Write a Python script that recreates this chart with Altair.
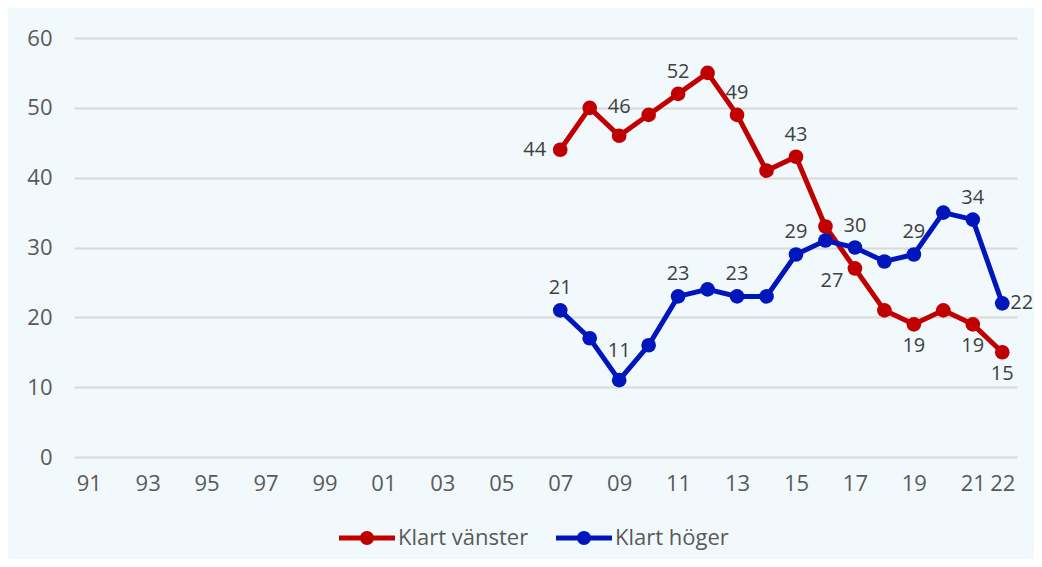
import altair as alt
import pandas as pd

# ---- data ----
years = list(range(2007, 2023))
vanster = [44, 50, 46, 49, 52, 55, 49, 41, 43, 33, 27, 21, 19, 21, 19, 15]
hoger = [21, 17, 11, 16, 23, 24, 23, 23, 29, 31, 30, 28, 29, 35, 34, 22]
series_names = ["Klart vänster", "Klart höger"]
series_colors = ["#c00000", "#0016bd"]
tick_years = list(range(1991, 2022, 2)) + [2022]
y_ticks = [0, 10, 20, 30, 40, 50, 60]

# which points carry a value label, and where it sits
vanster_labels = {2007: "left", 2009: "abovehigh", 2011: "above", 2013: "above",
                  2015: "above", 2017: "belowleft", 2019: "below", 2021: "below",
                  2022: "below"}
hoger_labels = {2007: "above", 2009: "abovehigh", 2011: "above", 2013: "above",
                2015: "above", 2017: "above", 2019: "above", 2021: "above",
                2022: "right"}

rows = []
for name, vals, labs in [(series_names[0], vanster, vanster_labels),
                         (series_names[1], hoger, hoger_labels)]:
    for yr, v in zip(years, vals):
        rows.append({"year": yr, "value": v, "series": name,
                     "pos": labs.get(yr, "none")})
df = pd.DataFrame(rows)

FONT = "Open Sans"
BG = "#f2f9fc"

color = alt.Color(
    "series:N",
    scale=alt.Scale(domain=series_names, range=series_colors),
    sort=series_names,
    legend=alt.Legend(
        title=None,
        orient="none",
        direction="horizontal",
        legendX=265,
        legendY=472,
        symbolType="M-1,-0.09 L1,-0.09 L1,0.09 L-1,0.09 Z M0.25,0 A0.25,0.25 0 1,1 -0.25,0 A0.25,0.25 0 1,1 0.25,0 Z",
        symbolSize=3136,
        symbolStrokeWidth=0,
        symbolOpacity=1,
        labelFont=FONT,
        labelFontSize=22,
        labelColor="#595959",
        labelOffset=3,
        columnPadding=27,
        labelLimit=300,
    ),
)

x = alt.X(
    "year:Q",
    scale=alt.Scale(domain=[1990.5, 2022.5], nice=False, zero=False),
    axis=alt.Axis(
        title=None, values=tick_years, grid=False, domain=False, ticks=False,
        labelExpr="slice(format(datum.value, 'd'), 2)",
        labelFont=FONT, labelFontSize=22, labelColor="#595959",
        labelPadding=16, labelOverlap=False, labelFlush=False,
    ),
)
y = alt.Y(
    "value:Q",
    scale=alt.Scale(domain=[0, 60], nice=False),
    axis=alt.Axis(
        title=None, values=y_ticks, domain=False, ticks=False,
        gridColor="#d9d9d9", gridWidth=2,
        labelFont=FONT, labelFontSize=22, labelColor="#595959",
        labelPadding=22,
    ),
)

base = alt.Chart(df)
lines = base.mark_line(strokeWidth=5).encode(x=x, y=y, color=color, detail="series:N")
points = base.mark_point(filled=True, size=215, opacity=1).encode(x=x, y=y, color=color)

offsets = {
    "above": dict(dx=0, dy=-22, align="center"),
    "abovehigh": dict(dx=0, dy=-29, align="center"),
    "below": dict(dx=0, dy=22, align="center"),
    "left": dict(dx=-14, dy=0, align="right"),
    "right": dict(dx=8, dy=0, align="left"),
    "belowleft": dict(dx=-23, dy=13, align="center"),
}
texts = []
for key, o in offsets.items():
    texts.append(
        base.transform_filter(alt.datum.pos == key)
        .mark_text(font=FONT, fontSize=20, color="#404040", baseline="middle", **o)
        .encode(x=x, y=y, text="value:Q")
    )

chart = alt.layer(lines, points, *texts).properties(
    width=943, height=419,
    autosize=alt.AutoSizeParams(type="none"),
    padding={"left": 66, "top": 30, "right": 17, "bottom": 102},
    background=BG,
).configure_view(stroke=None)

chart.save("out.html", embed_options={"renderer": "svg", "actions": False})
